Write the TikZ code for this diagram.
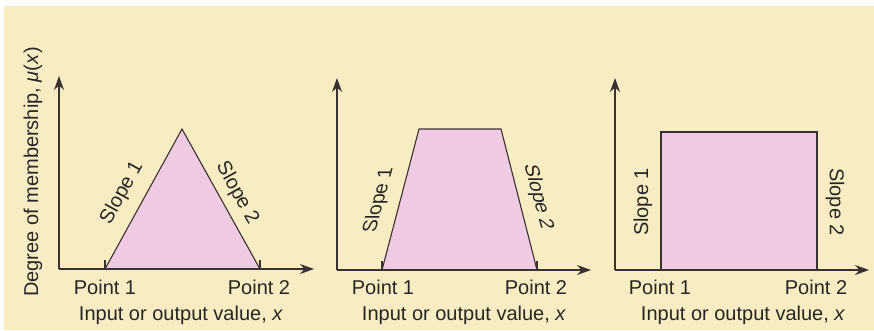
\documentclass[tikz,border=0pt]{standalone}
\usepackage{fontspec}
\setmainfont{Liberation Sans}
\usetikzlibrary{arrows.meta}
\definecolor{cream}{HTML}{F8EDC2}
\definecolor{pinkfill}{HTML}{EECBE2}
\definecolor{linec}{HTML}{3A3232}
\begin{document}
\begin{tikzpicture}[x=1pt,y=-1pt,
  axis/.style={draw=linec,line width=1.3pt,-{Stealth[length=14pt,width=10pt]}},
  shapeln/.style={draw=linec,line width=1.1pt,fill=pinkfill,line join=miter},
  tickln/.style={draw=linec,line width=1.1pt},
  lbl/.style={font=\fontsize{20}{23}\selectfont,text=black!85,inner sep=0pt},
  slopelbl/.style={font=\fontsize{20}{23}\selectfont,text=black!85,inner sep=0pt}]
\useasboundingbox (0,0) rectangle (874,330);
\fill[white] (0,0) rectangle (874,330);
\fill[cream] (4,6) rectangle (874,330);
% ---------- panel 1 ----------
\coordinate (o1) at (59,269);
\coordinate (y1) at (59,76);
\coordinate (x1) at (314,269);
\coordinate (a1) at (105,269);
\coordinate (b1) at (182,129);
\coordinate (c1) at (260,269);
\filldraw[shapeln] (a1) -- (b1) -- (c1) -- cycle;
\draw[tickln] (a1) -- ++(0,-9);
\draw[tickln] (c1) -- ++(0,-9);
\draw[axis] (o1) -- (y1);
\draw[axis] (o1) -- (x1);
\node[lbl] (p11) at (105,287) {Point 1};
\node[lbl] (p12) at (259,287) {Point 2};
\node[lbl] (xl1) at (181,315) {Input or output value, \textit{x}};
\node[lbl,rotate=90] (yl1) at (33,172) {Degree of membership, \textit{μ}(\textit{x})};
\node[slopelbl,rotate=61] (s11) at (122,193) {Slope 1};
\node[slopelbl,rotate=-61] (s12) at (237,193) {Slope 2};
% ---------- panel 2 ----------
\coordinate (o2) at (337,270);
\coordinate (y2) at (337,78);
\coordinate (x2) at (591,270);
\coordinate (a2) at (382,270);
\coordinate (b2) at (419,129);
\coordinate (c2) at (501,129);
\coordinate (d2) at (537,270);
\filldraw[shapeln] (a2) -- (b2) -- (c2) -- (d2) -- cycle;
\draw[tickln] (a2) -- ++(0,-9);
\draw[tickln] (d2) -- ++(0,-9);
\draw[axis] (o2) -- (y2);
\draw[axis] (o2) -- (x2);
\node[lbl] (p21) at (383,287) {Point 1};
\node[lbl] (p22) at (536,287) {Point 2};
\node[lbl] (xl2) at (464,315) {Input or output value, \textit{x}};
\node[slopelbl,cm={0.259,0.966,-1,0,(0,0)}] (s21) at (379,200) {Slope 1};
\node[slopelbl,cm={0.259,-0.966,1,0,(0,0)}] (s22) at (538,197) {Slope 2};
% ---------- panel 3 ----------
\coordinate (o3) at (615,270);
\coordinate (y3) at (615,78);
\coordinate (x3) at (869,270);
\coordinate (a3) at (661,270);
\coordinate (b3) at (661,132);
\coordinate (c3) at (817,132);
\coordinate (d3) at (817,270);
\filldraw[shapeln] (a3) -- (b3) -- (c3) -- (d3) -- cycle;
\draw[axis] (o3) -- (y3);
\draw[axis] (o3) -- (x3);
\node[lbl] (p31) at (660,287) {Point 1};
\node[lbl] (p32) at (816,287) {Point 2};
\node[lbl] (xl3) at (743,315) {Input or output value, \textit{x}};
\node[slopelbl,rotate=90] (s31) at (643,202) {Slope 1};
\node[slopelbl,rotate=-90] (s32) at (835,202) {Slope 2};
\end{tikzpicture}
\end{document}
